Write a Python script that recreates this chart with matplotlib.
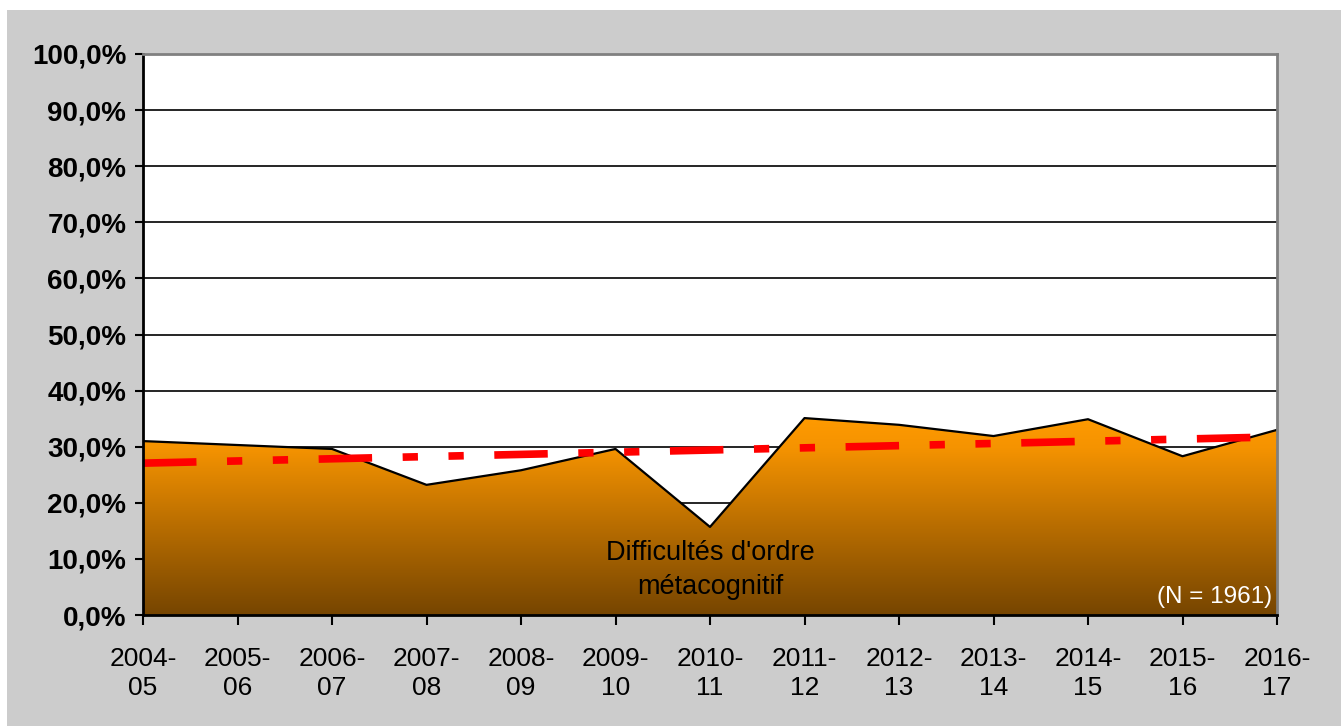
#!/usr/bin/env python3
# Share of "Difficultés d'ordre métacognitif" per school year, with linear trend
import numpy as np
import matplotlib.pyplot as plt
from matplotlib.colors import LinearSegmentedColormap
from matplotlib.patches import Rectangle

years = ['2004-\n05', '2005-\n06', '2006-\n07', '2007-\n08', '2008-\n09',
         '2009-\n10', '2010-\n11', '2011-\n12', '2012-\n13', '2013-\n14',
         '2014-\n15', '2015-\n16', '2016-\n17']
share = [31.0, 30.3, 29.6, 23.2, 25.8, 29.6, 15.7, 35.1, 33.9, 31.9, 34.9, 28.3, 33.0]
y_ticks = [0, 10, 20, 30, 40, 50, 60, 70, 80, 90, 100]

x = np.arange(len(years))
y = np.array(share)

fig = plt.figure(figsize=(13.41, 7.26), dpi=100)
fig.patch.set_facecolor('white')
# grey chart area, with a thin white strip at the top and left
fig.patches.append(Rectangle((7 / 1341, 0), 1, (726 - 10) / 726,
                             transform=fig.transFigure, facecolor='#cccccc',
                             edgecolor='none', zorder=-10))

ax = fig.add_axes([143 / 1341, 1 - 615 / 726, (1277 - 143) / 1341, (615 - 54) / 726])
ax.set_facecolor('white')
ax.set_xlim(0, len(years) - 1)
ax.set_ylim(0, 100)

# gridlines
for t in y_ticks[1:-1]:
    ax.axhline(t, color='black', lw=1.2, zorder=1)

# area with vertical gradient, clipped to the filled polygon
cmap = LinearSegmentedColormap.from_list(
    'orange_brown', [(0, '#764500'), (0.45, '#b86d00'), (0.85, '#f59300'), (1, '#ff9a00')])
poly = ax.fill_between(x, 0, y, color='none', zorder=2)
grad = np.linspace(0, 1, 256).reshape(-1, 1)
img = ax.imshow(grad, cmap=cmap, origin='lower', aspect='auto',
                extent=[0, len(years) - 1, 0, y.max()], zorder=2)
img.set_clip_path(poly.get_paths()[0], transform=ax.transData)
ax.plot(x, y, color='black', lw=1.6, zorder=3)

# linear trend
coef = np.polyfit(x, y, 1)
ax.plot(x, np.polyval(coef, x), color='#ff0000', lw=5.5,
        dashes=(7, 4, 2, 4, 2, 4), solid_capstyle='butt',
        dash_capstyle='butt', zorder=4)

ax.text(6, 8.0, "Difficultés d'ordre\nmétacognitif", ha='center', va='center',
        fontsize=19.5, color='black', family='Liberation Sans', linespacing=1.4, zorder=5)
ax.text(11.95, 3.2, '(N = 1961)', ha='right', va='center', fontsize=17.5,
        color='white', family='Liberation Sans', zorder=5)

ax.set_yticks(y_ticks)
ax.set_yticklabels([f'{t},0%' for t in y_ticks], fontsize=20, fontweight='bold',
                   family='Liberation Sans')
ax.set_xticks(x)
ax.set_xticklabels(years, fontsize=19, family='Liberation Sans', linespacing=1.25)
ax.tick_params(axis='y', direction='out', length=6, width=1.5, pad=6)
ax.tick_params(axis='x', direction='out', length=7, width=1.5, pad=16)

ax.spines['left'].set_color('black')
ax.spines['bottom'].set_color('black')
ax.spines['left'].set_linewidth(2)
ax.spines['bottom'].set_linewidth(2)
ax.spines['top'].set_color('#808080')
ax.spines['right'].set_color('#808080')
ax.spines['top'].set_linewidth(2)
ax.spines['right'].set_linewidth(2)
for s in ax.spines.values():
    s.set_zorder(6)

plt.savefig('out.png', dpi=100, facecolor=fig.get_facecolor())
